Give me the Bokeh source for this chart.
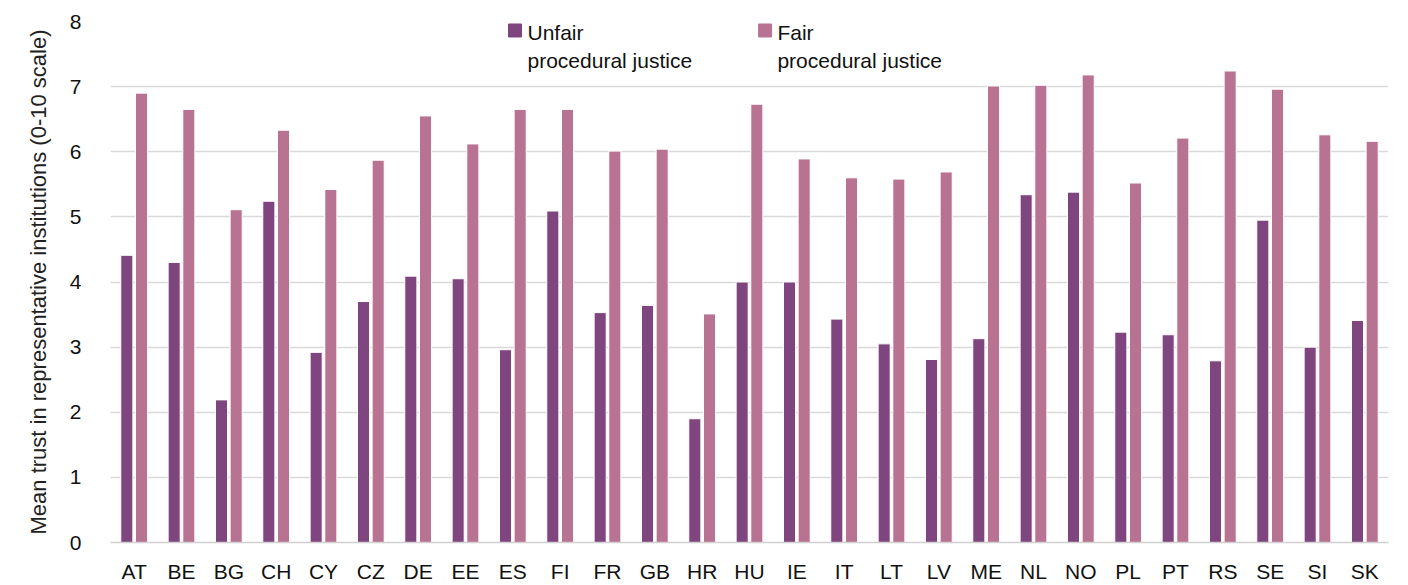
from bokeh.plotting import figure
from bokeh.models import FactorRange, Range1d, Label, SingleIntervalTicker, ColumnDataSource
from bokeh.transform import dodge
from bokeh.embed import file_html
from bokeh.resources import INLINE

countries = ["AT", "BE", "BG", "CH", "CY", "CZ", "DE", "EE", "ES", "FI", "FR", "GB", "HR", "HU",
             "IE", "IT", "LT", "LV", "ME", "NL", "NO", "PL", "PT", "RS", "SE", "SI", "SK"]
unfair = [4.41, 4.30, 2.19, 5.24, 2.92, 3.70, 4.09, 4.05, 2.96, 5.09, 3.53, 3.64, 1.90, 4.00,
          4.00, 3.43, 3.05, 2.81, 3.13, 5.34, 5.38, 3.23, 3.19, 2.79, 4.95, 3.00, 3.41]
fair = [6.90, 6.65, 5.11, 6.33, 5.42, 5.87, 6.55, 6.12, 6.65, 6.65, 6.01, 6.04, 3.51, 6.73,
        5.89, 5.60, 5.58, 5.69, 7.01, 7.02, 7.18, 5.52, 6.21, 7.24, 6.96, 6.26, 6.16]
series_labels = ["Unfair\nprocedural justice", "Fair\nprocedural justice"]
y_title = "Mean trust in representative institutions (0-10 scale)"

c_unfair = "#7f457e"
c_fair = "#b87393"
FONT = "Liberation Sans"

src = ColumnDataSource(dict(c=countries, u=unfair, f=fair))

p = figure(x_range=FactorRange(*countries), y_range=Range1d(0, 8),
           width=1408, height=585, output_backend="svg", toolbar_location=None,
           min_border_left=110, min_border_right=20, min_border_top=21, min_border_bottom=42)
p.outline_line_color = None

p.vbar(x=dodge("c", -0.155, range=p.x_range), top="u", width=0.255, source=src,
       fill_color=c_unfair, line_color="white", line_width=1)
p.vbar(x=dodge("c", 0.155, range=p.x_range), top="f", width=0.255, source=src,
       fill_color=c_fair, line_color="white", line_width=1)

p.xgrid.grid_line_color = None
p.ygrid.grid_line_color = "#d9d9d9"
p.ygrid.grid_line_width = 1.5
p.yaxis.ticker = SingleIntervalTicker(interval=1)

for ax in (p.xaxis, p.yaxis):
    ax.major_tick_line_color = None
    ax.minor_tick_line_color = None
    ax.major_label_text_font = FONT
    ax.major_label_text_font_size = "21px"
    ax.major_label_text_color = "#111111"
p.yaxis.axis_line_color = None
p.xaxis.axis_line_color = "#d0d0d0"
p.xaxis.axis_line_width = 1.5
p.xaxis.major_label_standoff = 11
p.yaxis.major_label_standoff = 23
p.yaxis.axis_label = y_title
p.yaxis.axis_label_text_font = FONT
p.yaxis.axis_label_text_font_size = "22px"
p.yaxis.axis_label_text_font_style = "normal"
p.yaxis.axis_label_text_color = "#222222"
p.yaxis.axis_label_standoff = 16

# legend (manual, two-line labels)
p.scatter(x=[8.546], y=[7.862], marker="square", size=13, color=c_unfair)
p.scatter(x=[13.83], y=[7.862], marker="square", size=13, color=c_fair)
p.add_layout(Label(x=8.81, y=8.015, text=series_labels[0], text_font=FONT,
                   text_font_size="21px", text_baseline="top", text_color="#111111",
                   text_line_height=1.25))
p.add_layout(Label(x=14.09, y=8.015, text=series_labels[1], text_font=FONT,
                   text_font_size="21px", text_baseline="top", text_color="#111111",
                   text_line_height=1.25))

open("out.html", "w").write(file_html(p, INLINE))
